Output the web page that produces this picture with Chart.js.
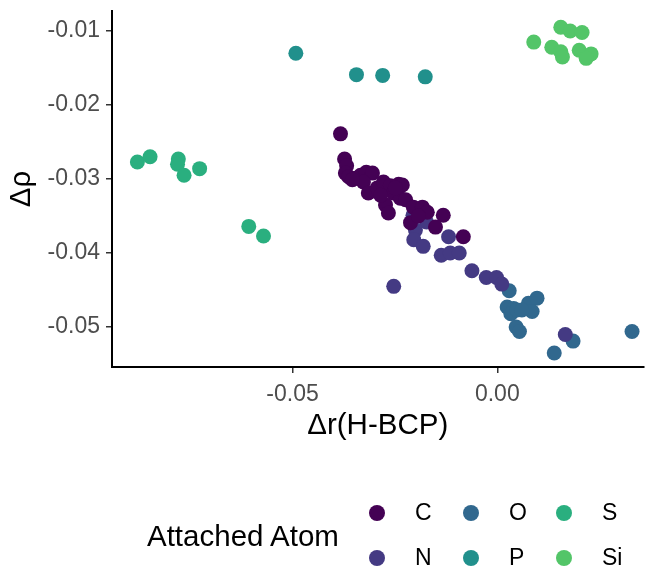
<!DOCTYPE html>
<html>
<head>
<meta charset="utf-8">
<script src="https://cdn.jsdelivr.net/npm/chart.js@4"></script>
<style>
  body { margin: 0; background: #fff; font-family: "Liberation Sans", Arial, sans-serif; overflow: hidden; }
  #wrap { position: relative; width: 651px; height: 569px; }
  #chart { display: block; }
  .legend-title { position: absolute; left: 147px; top: 519px; font-size: 29.5px; color: #000; }
  .legend-item { position: absolute; font-size: 23px; color: #000; line-height: 23px; }
  .legend-dot { position: absolute; width: 16px; height: 16px; border-radius: 50%; }
</style>
</head>
<body>
<div id="wrap">
  <canvas id="chart" width="651" height="569"></canvas>
  <div class="legend"></div>
</div>
<script>
const atoms = ['C', 'N', 'O', 'P', 'S', 'Si'];
const atomColors = ['#440154', '#443A83', '#31688E', '#21908C', '#2AAF7F', '#53C568'];

const xC = [-0.0383, -0.0373, -0.0368, -0.0371, -0.0363, -0.0346, -0.0334, -0.0320, -0.0305, -0.0327,
            -0.0315, -0.0293, -0.0278, -0.0261, -0.0241, -0.0232, -0.0254, -0.0237, -0.0273, -0.0266,
            -0.0224, -0.0205, -0.0183, -0.0171, -0.0132, -0.0151, -0.0083, -0.0212, -0.0193, -0.0285,
            -0.0354, -0.0249];
const yC = [-0.0239, -0.0273, -0.0282, -0.0292, -0.0297, -0.0299, -0.0295, -0.0291, -0.0292, -0.0304,
            -0.0319, -0.0312, -0.0304, -0.0309, -0.0307, -0.0308, -0.0319, -0.0326, -0.0335, -0.0346,
            -0.0328, -0.0338, -0.0338, -0.0345, -0.0349, -0.0365, -0.0378, -0.0359, -0.0350, -0.0322,
            -0.0301, -0.0312];

const xN = [-0.0206, -0.0173, -0.0200, -0.0204, -0.0181, -0.0119, -0.0137, -0.0115, -0.0093, -0.0062,
            -0.0027, -0.0002, 0.0011, -0.0253, 0.0166];
const yN = [-0.0349, -0.0358, -0.0369, -0.0382, -0.0391, -0.0378, -0.0403, -0.0400, -0.0400, -0.0424,
            -0.0433, -0.0433, -0.0442, -0.0445, -0.0510];

const xO = [0.0029, 0.0024, 0.0040, 0.0033, 0.0076, 0.0097, 0.0085, 0.0048, 0.0060, 0.0046,
            0.0054, 0.0185, 0.0139, 0.0329];
const yO = [-0.0451, -0.0473, -0.0475, -0.0482, -0.0468, -0.0461, -0.0479, -0.0477, -0.0477, -0.0500,
            -0.0506, -0.0519, -0.0535, -0.0506];

const xP = [-0.0492, -0.0344, -0.0280, -0.0176];
const yP = [-0.0130, -0.0159, -0.0160, -0.0162];

const xS = [-0.0879, -0.0848, -0.0779, -0.0781, -0.0765, -0.0727, -0.0607, -0.0571];
const yS = [-0.0277, -0.0270, -0.0273, -0.0280, -0.0295, -0.0286, -0.0364, -0.0377];

const xSi = [0.0089, 0.0155, 0.0178, 0.0207, 0.0133, 0.0155, 0.0159, 0.0200, 0.0229, 0.0217];
const ySi = [-0.0115, -0.0095, -0.0100, -0.0102, -0.0122, -0.0128, -0.0135, -0.0126, -0.0131, -0.0137];

const xTicks = [-0.05, 0.00];
const yTicks = [-0.05, -0.04, -0.03, -0.02, -0.01];

const xs = [xC, xN, xO, xP, xS, xSi];
const ys = [yC, yN, yO, yP, yS, ySi];

const datasets = atoms.map((a, i) => ({
    label: a,
    data: xs[i].map((x, j) => ({ x: x, y: ys[i][j] })),
    backgroundColor: atomColors[i],
    pointRadius: 7.5,
    pointHoverRadius: 7.5,
    borderWidth: 0
}));

const axisFont = { family: '"Liberation Sans", Arial, sans-serif', size: 23 };
const titleFont = { family: '"Liberation Sans", Arial, sans-serif', size: 29.5 };

new Chart(document.getElementById('chart'), {
    type: 'scatter',
    data: { datasets: datasets },
    options: {
        responsive: false,
        animation: false,
        layout: { padding: { top: 11, right: 0, bottom: 125, left: 0 } },
        plugins: { legend: { display: false }, tooltip: { enabled: false } },
        scales: {
            x: {
                type: 'linear',
                min: -0.0941,
                max: 0.0357,
                afterBuildTicks: s => { s.ticks = xTicks.map(v => ({ value: v })); },
                afterFit: s => { s.height = 77; s.paddingLeft = 0; s.paddingRight = 0; },
                grid: { display: true, drawOnChartArea: false, drawTicks: true, tickLength: 6, color: '#333', lineWidth: 1.5 },
                border: { display: true, color: '#000', width: 2 },
                ticks: { color: '#4d4d4d', font: axisFont, padding: 8, maxRotation: 0, callback: v => v.toFixed(2) },
                title: { display: true, text: 'Δr(H-BCP)', color: '#000', font: titleFont, padding: 0 }
            },
            y: {
                type: 'linear',
                min: -0.0554,
                max: -0.0073,
                afterBuildTicks: s => { s.ticks = yTicks.map(v => ({ value: v })); },
                afterFit: s => { s.width = 112; s.paddingTop = 0; s.paddingBottom = 0; },
                grid: { display: true, drawOnChartArea: false, drawTicks: true, tickLength: 6, color: '#333', lineWidth: 1.5 },
                border: { display: true, color: '#000', width: 2 },
                ticks: { color: '#4d4d4d', font: axisFont, padding: 6, callback: v => v.toFixed(2) },
                title: { display: true, text: 'Δρ', color: '#000', font: titleFont, padding: { top: 4, bottom: 0 } }
            }
        }
    }
});

// legend: 3 columns, 2 rows, filled column by column
const legendBox = document.querySelector('.legend');
const colX = [377, 471, 564];
const rowY = [513, 558];
legendBox.innerHTML = '<div class="legend-title">Attached Atom</div>' + atoms.map((a, i) => {
    const cx = colX[Math.floor(i / 2)], cy = rowY[i % 2];
    return `<div class="legend-dot" style="left:${cx - 8}px;top:${cy - 8}px;background:${atomColors[i]}"></div>
            <div class="legend-item" style="left:${cx + 38}px;top:${cy - 12}px">${a}</div>`;
}).join('');
</script>
</body>
</html>
